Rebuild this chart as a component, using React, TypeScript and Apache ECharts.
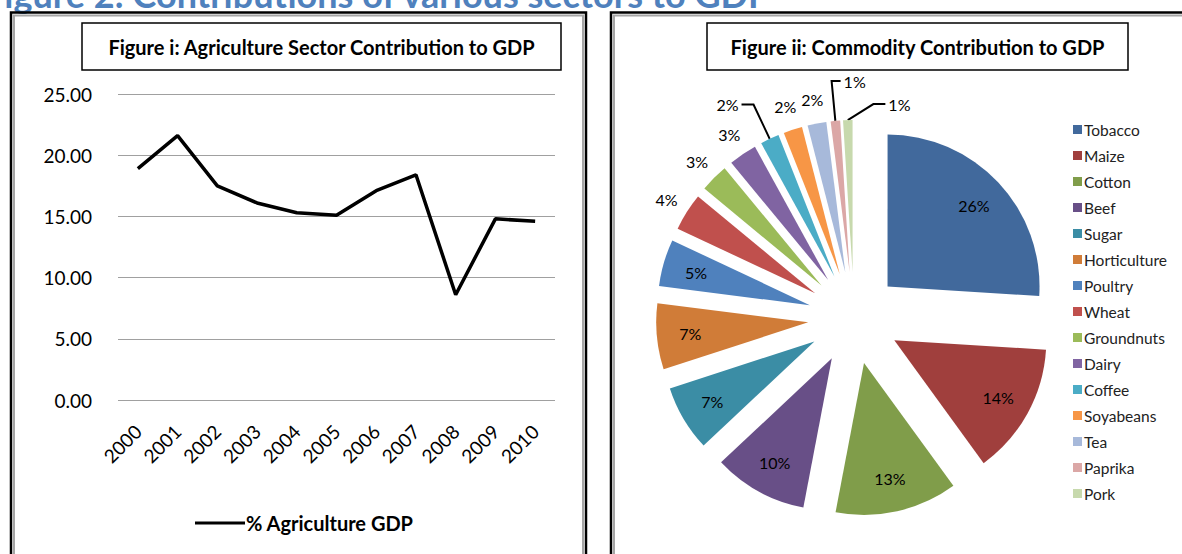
import { useEffect, useRef } from 'react';
import * as echarts from 'echarts';

const years = ['2000', '2001', '2002', '2003', '2004', '2005', '2006', '2007', '2008', '2009', '2010'];
const agriGdp = [18.9, 21.6, 17.5, 16.1, 15.3, 15.1, 17.1, 18.4, 8.6, 14.8, 14.6];
const yMin = 0;
const yMax = 25;
const yStep = 5;

const commodities = ['Tobacco', 'Maize', 'Cotton', 'Beef', 'Sugar', 'Horticulture', 'Poultry', 'Wheat', 'Groundnuts', 'Dairy', 'Coffee', 'Soyabeans', 'Tea', 'Paprika', 'Pork'];
const shares = [26, 14, 13, 10, 7, 7, 5, 4, 3, 3, 2, 2, 2, 1, 1];
const sliceColors = ['#41699C', '#A03F3D', '#809D4A', '#684F87', '#3B8DA5', '#D07C38', '#4F81BD', '#C0504D', '#9BBB59', '#8064A2', '#4BACC6', '#F79646', '#A7B9DA', '#DBA7A6', '#C7D9AD'];
const leaderLines = ['Coffee', 'Paprika', 'Pork'];
const flipRight = ['Paprika', 'Pork'];

const FONT = 'Lato, "Noto Sans", sans-serif';

export default function App() {
  const ref = useRef<HTMLDivElement>(null);

  useEffect(() => {
    document.body.style.margin = '0';
    const chart = echarts.init(ref.current!, null, { renderer: 'svg' });

    const R = 152;
    const OFFSET = 46;
    const center = [854, 318];
    const LABEL_GAP = 3;

    const lineLen = (name: string) => {
      if (name === 'Coffee') return [38, 12];
      if (name === 'Paprika') return [40, 9];
      if (name === 'Pork') return [16, 12];
      return [24, 0];
    };

    const mainData = commodities.map((name, i) => {
      const small = shares[i] < 5;
      const lead = leaderLines.includes(name);
      const [l1, l2] = lineLen(name);
      return {
        name,
        value: shares[i],
        selected: true,
        itemStyle: { color: sliceColors[i] },
        label: { show: small },
        labelLine: { show: lead, length: l1, length2: l2 },
      };
    });
    const overlayData = commodities.map((name, i) => ({
      name,
      value: shares[i],
      selected: true,
      itemStyle: { color: 'rgba(0,0,0,0)' },
      label: { show: shares[i] >= 5 },
    }));

    chart.setOption({
      animation: false,
      textStyle: { fontFamily: FONT },
      graphic: [
        {
          type: 'text',
          x: -16,
          y: 12,
          style: {
            text: 'Figure 2: Contributions of various sectors to GDP',
            font: 'bold 36px ' + FONT,
            fill: '#4F81BD',
            verticalAlign: 'bottom',
          },
        },
        // left panel border
        { type: 'rect', shape: { x: 11, y: 12.5, width: 575, height: 600 }, style: { fill: 'none', stroke: '#000', lineWidth: 2.5 } },
        { type: 'rect', shape: { x: 14, y: 15.5, width: 569, height: 600 }, style: { fill: 'none', stroke: '#A6A6A6', lineWidth: 2 } },
        // right panel border
        { type: 'rect', shape: { x: 611, y: 12.5, width: 600, height: 600 }, style: { fill: 'none', stroke: '#000', lineWidth: 2.5 } },
        { type: 'rect', shape: { x: 614, y: 15.5, width: 600, height: 600 }, style: { fill: 'none', stroke: '#A6A6A6', lineWidth: 2 } },
        // title boxes
        { type: 'rect', shape: { x: 82, y: 23, width: 479, height: 47 }, style: { fill: '#fff', stroke: '#000', lineWidth: 1.5 } },
        {
          type: 'text', x: 321.5, y: 47,
          style: { text: 'Figure i: Agriculture Sector Contribution to GDP', font: 'bold 20px ' + FONT, fill: '#000', align: 'center', verticalAlign: 'middle' },
        },
        { type: 'rect', shape: { x: 707, y: 23, width: 421, height: 47 }, style: { fill: '#fff', stroke: '#000', lineWidth: 1.5 } },
        {
          type: 'text', x: 917.5, y: 47,
          style: { text: 'Figure ii: Commodity Contribution to GDP', font: 'bold 20px ' + FONT, fill: '#000', align: 'center', verticalAlign: 'middle' },
        },
      ],
      grid: { left: 118, top: 94, width: 437, height: 306, containLabel: false },
      xAxis: {
        type: 'category',
        data: years,
        boundaryGap: true,
        axisLine: { show: false },
        axisTick: { show: false },
        axisLabel: { rotate: 45, margin: 28, fontSize: 19, color: '#000', fontFamily: FONT, interval: 0 },
      },
      yAxis: {
        type: 'value',
        min: yMin,
        max: yMax,
        interval: yStep,
        axisLine: { show: false },
        axisTick: { show: false },
        axisLabel: { margin: 26, fontSize: 19, color: '#000', fontFamily: FONT, formatter: (v: number) => v.toFixed(2) },
        splitLine: { lineStyle: { color: '#A0A0A0', width: 1 } },
      },
      legend: [
        {
          data: [{ name: '% Agriculture GDP', icon: 'rect' }],
          left: 190,
          top: 508,
          itemWidth: 50,
          itemHeight: 3,
          itemStyle: { color: '#000' },
          textStyle: { fontSize: 20, fontWeight: 'bold', color: '#000', fontFamily: FONT, padding: [0, 0, 0, -4] },
        },
        {
          data: commodities.map((n) => ({ name: n, icon: 'rect' })),
          orient: 'vertical',
          left: 1068,
          top: 116,
          itemWidth: 9,
          itemHeight: 9,
          itemGap: 9,
          textStyle: { fontSize: 15.5, lineHeight: 17, color: '#222', fontFamily: FONT, padding: [0, 0, 0, -3] },
        },
      ],
      series: [
        {
          name: '% Agriculture GDP',
          type: 'line',
          data: agriGdp,
          symbol: 'none',
          lineStyle: { color: '#000', width: 3.5 },
          itemStyle: { color: '#000' },
        },
        {
          name: 'Commodity',
          type: 'pie',
          center,
          radius: [0, R],
          startAngle: 90,
          clockwise: true,
          selectedMode: 'multiple',
          selectedOffset: OFFSET,
          avoidLabelOverlap: false,
          data: mainData,
          label: { position: 'outside', formatter: '{c}%', fontSize: 16, color: '#000', fontFamily: FONT, distanceToLabelLine: LABEL_GAP },
          labelLine: { lineStyle: { color: '#000', width: 2 } },
          labelLayout: (params: any) => {
            const name = commodities[params.dataIndex];
            const w = params.labelRect.width;
            if (leaderLines.includes(name)) {
              if (!flipRight.includes(name)) return {};
              const pts = params.labelLinePoints;
              if (!pts || pts.length < 3) return {};
              const p0 = pts[0];
              const p1 = pts[1];
              const p2 = pts[2];
              const len2 = Math.abs(p2[0] - p1[0]);
              let newPts;
              if (name === 'Pork') {
                // diagonal leader going up and to the right, then a short horizontal run
                const q1 = [p0[0] + (p0[1] - p1[1]) * 1.6, p1[1]];
                newPts = [p0, q1, [q1[0] + len2, p1[1]]];
              } else {
                newPts = [p0, p1, [p1[0] + len2, p2[1]]];
              }
              const newEnd = newPts[2];
              const oldLeft = p2[0] - LABEL_GAP - w;
              return {
                dx: newEnd[0] + LABEL_GAP - oldLeft,
                labelLinePoints: newPts,
              };
            }
            // centre plain outside labels over the end of their (hidden) radial line
            return { dx: w / 2 + LABEL_GAP };
          },
          emphasis: { disabled: true },
        },
        {
          name: 'CommodityLabels',
          type: 'pie',
          center,
          radius: [0, R * 1.52],
          startAngle: 90,
          clockwise: true,
          selectedMode: 'multiple',
          selectedOffset: OFFSET,
          silent: true,
          avoidLabelOverlap: false,
          data: overlayData,
          label: { position: 'inside', formatter: '{c}%', fontSize: 16, color: '#000', fontFamily: FONT },
          labelLine: { show: false },
          emphasis: { disabled: true },
        },
      ],
    });

    return () => chart.dispose();
  }, []);

  return <div ref={ref} style={{ width: 1182, height: 554 }} />;
}
